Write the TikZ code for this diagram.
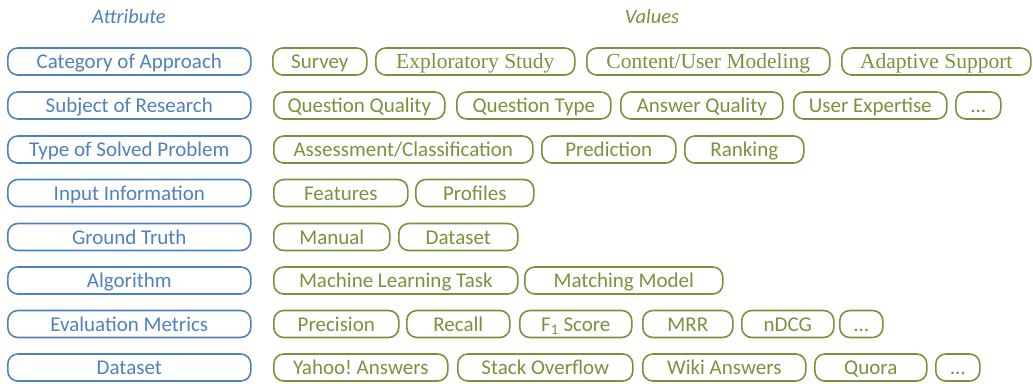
\documentclass[tikz,border=0pt]{standalone}
\usepackage{fontspec}
\setmainfont{Carlito}
\newfontfamily\serifvals{Liberation Serif}
\definecolor{attrblue}{RGB}{79,129,189}
\definecolor{valgreen}{RGB}{119,147,60}
\frenchspacing
\tikzset{
  pill/.style={line width=1.6pt, rounded corners=10pt, minimum height=27pt,
    inner sep=0pt, anchor=west, text height=16pt, text depth=2pt,
    font=\fontsize{21}{24}\selectfont},
  attr/.style={pill, draw=attrblue, text=attrblue, minimum width=243pt},
  val/.style={pill, draw=valgreen, text=valgreen, minimum width=#1},
  serifval/.style={val=#1, font=\fontsize{21.5}{24}\serifvals},
  heading/.style={font=\fontsize{20.5}{24}\selectfont\itshape, inner sep=0pt}
}
\begin{document}
\begin{tikzpicture}[x=1pt, y=-1pt]
\useasboundingbox (0,0) rectangle (1033,383);

% column headings
\node[heading, text=attrblue] (hattr) at (129,16) {Attribute};
\node[heading, text=valgreen] (hval) at (652,16) {Values};

% attributes
\node[attr] (a1) at (7,61.5)  {Category of Approach};
\node[attr] (a2) at (7,105.5) {Subject of Research};
\node[attr] (a3) at (7,149.5) {Type of Solved Problem};
\node[attr] (a4) at (7,193)   {Input Information};
\node[attr] (a5) at (7,237)   {Ground Truth};
\node[attr] (a6) at (7,280.5) {Algorithm};
\node[attr] (a7) at (7,324)   {Evaluation Metrics};
\node[attr] (a8) at (7,367.5) {Dataset};

% values: category of approach
\node[val=94pt]       (v11) at (272,61.5) {Survey};
\node[serifval=199pt] (v12) at (375,61.5) {Exploratory Study};
\node[serifval=243pt] (v13) at (586,61.5) {Content/User Modeling};
\node[serifval=189pt] (v14) at (841,61.5) {Adaptive Support};

% values: subject of research
\node[val=171pt] (v21) at (273,105.5) {Question Quality};
\node[val=154pt] (v22) at (456,105.5) {Question Type};
\node[val=162pt] (v23) at (620,105.5) {Answer Quality};
\node[val=153pt] (v24) at (793,105.5) {User Expertise};
\node[val=45pt]  (v25) at (955,105.5) {\dots};

% values: type of solved problem
\node[val=259pt] (v31) at (273,149.5) {Assessment/Classification};
\node[val=134pt] (v32) at (541,149.5) {Prediction};
\node[val=119pt] (v33) at (684,149.5) {Ranking};

% values: input information
\node[val=134pt] (v41) at (273,193) {Features};
\node[val=118pt] (v42) at (415,193) {Profiles};

% values: ground truth
\node[val=116pt] (v51) at (273,237) {Manual};
\node[val=119pt] (v52) at (398,237) {Dataset};

% values: algorithm
\node[val=244pt] (v61) at (273,280.5) {Machine Learning Task};
\node[val=198pt] (v62) at (524,280.5) {Matching Model};

% values: evaluation metrics
\node[val=125pt] (v71) at (273,324) {Precision};
\node[val=103pt] (v72) at (406,324) {Recall};
\node[val=112pt] (v73) at (519,324) {F\textsubscript{1} Score};
\node[val=90pt]  (v74) at (642,324) {MRR};
\node[val=92pt]  (v75) at (741,324) {nDCG};
\node[val=43pt]  (v76) at (839,324) {\dots};

% values: dataset
\node[val=174pt] (v81) at (273,367.5) {Yahoo! Answers};
\node[val=175pt] (v82) at (457,367.5) {Stack Overflow};
\node[val=163pt] (v83) at (642,367.5) {Wiki Answers};
\node[val=112pt] (v84) at (814,367.5) {Quora};
\node[val=44pt]  (v85) at (935,367.5) {\dots};
\end{tikzpicture}
\end{document}
